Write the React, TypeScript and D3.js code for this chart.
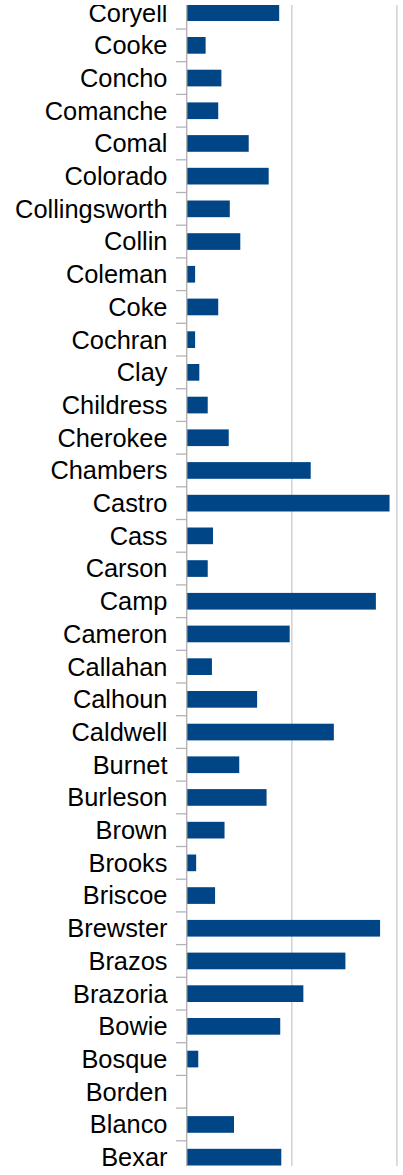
import React from "react";
import * as d3 from "d3";

const categories = [
  "Coryell", "Cooke", "Concho", "Comanche", "Comal", "Colorado", "Collingsworth", "Collin",
  "Coleman", "Coke", "Cochran", "Clay", "Childress", "Cherokee", "Chambers", "Castro",
  "Cass", "Carson", "Camp", "Cameron", "Callahan", "Calhoun", "Caldwell", "Burnet",
  "Burleson", "Brown", "Brooks", "Briscoe", "Brewster", "Brazos", "Brazoria", "Bowie",
  "Bosque", "Borden", "Blanco", "Bexar",
];

const values = [
  8.8, 1.8, 3.3, 3.0, 5.9, 7.8, 4.1, 5.1,
  0.8, 3.0, 0.8, 1.2, 2.0, 4.0, 11.8, 19.3,
  2.5, 2.0, 18.0, 9.8, 2.4, 6.7, 14.0, 5.0,
  7.6, 3.6, 0.9, 2.7, 18.4, 15.1, 11.1, 8.9,
  1.1, 0, 4.5, 9.0,
];

const gridValues = [10, 20];

const W = 403;
const H = 1175;
const clipTop = 5;
const clipBottom = 1166;

export default function App() {
  const x = d3.scaleLinear().domain([0, 20]).range([186.7, 396.9]);
  const y = d3
    .scaleBand<string>()
    .domain(categories)
    .range([-3.7, 1173.5])
    .paddingInner(0.49)
    .paddingOuter(0.245);
  const step = y.step();
  const start = (y(categories[0]) as number) - (step - y.bandwidth()) / 2;
  const boundaries = d3.range(0, categories.length + 1).map((i) => start + i * step);

  return (
    <svg
      width={W}
      height={H}
      style={{ position: "absolute", left: 0, top: 0, background: "#fff" }}
    >
      <defs>
        <clipPath id="plotClip">
          <rect x={0} y={clipTop} width={W} height={clipBottom - clipTop} />
        </clipPath>
        <clipPath id="labelClip">
          <rect x={0} y={clipTop} width={W} height={H - clipTop} />
        </clipPath>
      </defs>
      <g clipPath="url(#plotClip)">
        {gridValues.map((v) => (
          <line
            key={v}
            x1={x(v)}
            x2={x(v)}
            y1={clipTop}
            y2={clipBottom}
            stroke="#d4d4d4"
            strokeWidth={1.6}
          />
        ))}
        {boundaries.map((b, i) => (
          <line key={i} x1={176} x2={187} y1={b} y2={b} stroke="#b3b3b3" strokeWidth={1.3} />
        ))}
        {categories.map((c, i) => (
          <rect
            key={c}
            x={x(0)}
            y={y(c) as number}
            width={Math.max(0, x(values[i]) - x(0))}
            height={y.bandwidth()}
            fill="#004586"
          />
        ))}
        <line x1={186.7} x2={186.7} y1={clipTop} y2={clipBottom} stroke="#b3b3b3" strokeWidth={1.4} />
      </g>
      <g clipPath="url(#labelClip)">
        {categories.map((c) => (
          <text
            key={c}
            x={167.5}
            y={(y(c) as number) + y.bandwidth() / 2}
            dy="0.35em"
            textAnchor="end"
            fontFamily="'Liberation Sans', Arial, sans-serif"
            fontSize={25.4}
            fill="#000"
          >
            {c}
          </text>
        ))}
      </g>
    </svg>
  );
}
